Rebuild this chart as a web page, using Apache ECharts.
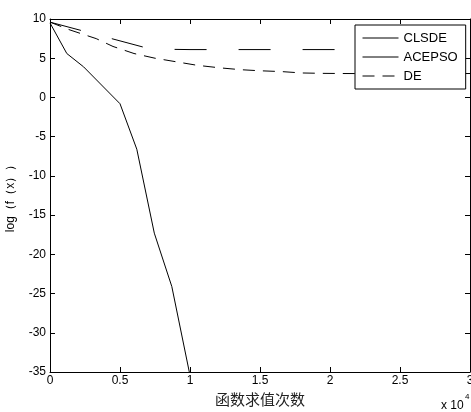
<!DOCTYPE html>
<html>
<head>
<meta charset="utf-8">
<script src="https://cdn.jsdelivr.net/npm/echarts@6/dist/echarts.min.js"></script>
<style>
  html, body { margin: 0; padding: 0; background: #fff; }
  #chart { width: 471px; height: 412px; }
</style>
</head>
<body>
<div id="chart"></div>
<script>
// x values are in units of 10^4 function evaluations
const clsdeX = [0, 0.12, 0.24, 0.5, 0.62, 0.745, 0.87, 0.995];
const clsdeY = [9.5, 5.6, 3.9, -0.8, -6.6, -17.3, -24.1, -35];

const acepsoX = [0, 0.44, 0.67, 0.8, 1.0, 1.5, 2.0, 2.5, 3.0];
const acepsoY = [9.6, 7.5, 6.4, 6.15, 6.1, 6.1, 6.1, 6.1, 6.1];

const deX = [0, 0.143, 0.33, 0.45, 0.6, 0.75, 0.9, 1.05, 1.21, 1.36, 1.5, 1.65, 1.8, 1.95, 2.1, 2.5, 3.0];
const deY = [9.6, 8.6, 7.5, 6.5, 5.6, 5.0, 4.55, 4.1, 3.78, 3.54, 3.4, 3.3, 3.12, 3.07, 3.05, 3.03, 3.05];

const seriesNames = ['CLSDE', 'ACEPSO', 'DE'];

const zip = (xs, ys) => xs.map((x, i) => [x, ys[i]]);

const chart = echarts.init(document.getElementById('chart'));

const axisCommon = {
  axisLine: { onZero: false, lineStyle: { color: '#000', width: 1 } },
  axisTick: { inside: true, length: 5, lineStyle: { color: '#000' } },
  splitLine: { show: false }
};

const option = {
  animation: false,
  backgroundColor: '#fff',
  grid: { left: 50, right: 1, top: 19, bottom: 40, outerBoundsMode: 'none' },
  legend: {
    orient: 'vertical',
    left: 355,
    top: 25,
    padding: [6, 8, 6, 7],
    itemGap: 5,
    itemWidth: 36,
    itemHeight: 10,
    backgroundColor: '#fff',
    borderColor: '#000',
    borderWidth: 1,
    borderRadius: 0,
    itemStyle: { opacity: 0 },
    lineStyle: { width: 1 },
    textStyle: { fontFamily: 'Liberation Sans, Arial', fontSize: 13, color: '#000', lineHeight: 14 },
    data: [
      { name: 'CLSDE' },
      { name: 'ACEPSO', lineStyle: { type: 'solid', width: 1 } },
      { name: 'DE' }
    ]
  },
  xAxis: [
    Object.assign({
      type: 'value',
      min: 0, max: 3, interval: 0.5,
      position: 'bottom',
      name: '函数求值次数',
      nameLocation: 'middle',
      nameGap: 19,
      nameTextStyle: { fontFamily: 'Noto Sans CJK SC', fontSize: 15, color: '#222' },
      axisLabel: { color: '#000', fontFamily: 'Liberation Sans, Arial', fontSize: 12, margin: 3 }
    }, axisCommon),
    Object.assign({
      type: 'value',
      min: 0, max: 3, interval: 0.5,
      position: 'top',
      axisLabel: { show: false }
    }, axisCommon)
  ],
  yAxis: [
    Object.assign({
      type: 'value',
      min: -35, max: 10, interval: 5,
      position: 'left',
      name: 'log（f（x））',
      nameLocation: 'middle',
      nameRotate: 90,
      nameGap: 33,
      nameTextStyle: { fontFamily: 'Liberation Sans, Arial', fontSize: 12, color: '#000' },
      axisLabel: { color: '#000', fontFamily: 'Liberation Sans, Arial', fontSize: 12, margin: 4 }
    }, axisCommon),
    Object.assign({
      type: 'value',
      min: -35, max: 10, interval: 5,
      position: 'right',
      axisLabel: { show: false }
    }, axisCommon)
  ],
  graphic: [
    { type: 'text', left: 441, top: 400, style: { text: 'x 10', fontFamily: 'Liberation Sans, Arial', fontSize: 12, fill: '#000' } },
    { type: 'text', left: 465, top: 393, style: { text: '4', fontFamily: 'Liberation Sans, Arial', fontSize: 8, fill: '#000' } }
  ],
  series: [
    {
      name: seriesNames[0], type: 'line', symbol: 'none',
      data: zip(clsdeX, clsdeY),
      lineStyle: { color: '#000', width: 1 }, itemStyle: { color: '#000' }
    },
    {
      name: seriesNames[1], type: 'line', symbol: 'none',
      data: zip(acepsoX, acepsoY),
      lineStyle: { color: '#000', width: 1, type: [32, 32] }, itemStyle: { color: '#000' }
    },
    {
      name: seriesNames[2], type: 'line', symbol: 'none',
      data: zip(deX, deY),
      lineStyle: { color: '#000', width: 1, type: [12, 8] }, itemStyle: { color: '#000' }
    }
  ]
};

chart.setOption(option);
</script>
</body>
</html>
